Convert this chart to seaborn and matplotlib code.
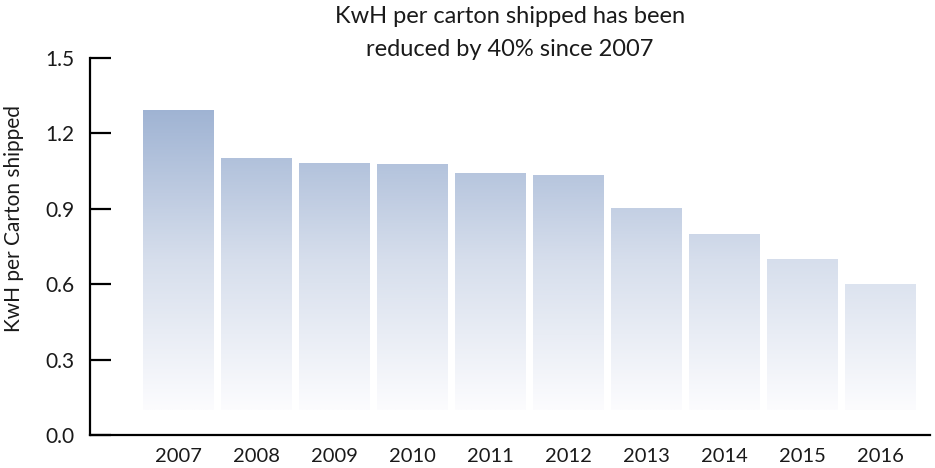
import numpy as np
import pandas as pd
import seaborn as sns
import matplotlib.pyplot as plt
from matplotlib.colors import LinearSegmentedColormap, Normalize

# ---- data ----
years = ['2007', '2008', '2009', '2010', '2011', '2012', '2013', '2014', '2015', '2016']
kwh_per_carton = [1.29, 1.10, 1.08, 1.075, 1.04, 1.035, 0.90, 0.80, 0.70, 0.60]
y_ticks = [0.0, 0.3, 0.6, 0.9, 1.2, 1.5]
y_tick_labels = ['0.0', '0.3', '0.6', '0.9', '1.2', '1.5']
title_text = 'KwH per carton shipped has been\nreduced by 40% since 2007'
y_label = 'KwH per Carton shipped'

sns.set_theme(style='white')
plt.rcParams['font.family'] = ['Lato', 'DejaVu Sans']
text_color = '#1a1a1a'

fig = plt.figure(figsize=(9.35, 4.68), dpi=100)
ax = fig.add_axes([90 / 935, 1 - 435 / 468, 840 / 935, 377 / 468])

df = pd.DataFrame({'year': years, 'kwh': kwh_per_carton})
sns.barplot(data=df, x='year', y='kwh', ax=ax, width=0.91, color='#a0b4d3',
            saturation=1, errorbar=None)

# gradient fill: color depends on absolute height, fading to white near the base
cmap = LinearSegmentedColormap.from_list('fade', ['#fcfcfe', '#d6deec', '#9fb3d3'])
norm = Normalize(vmin=0.1, vmax=1.30)
fade_base = 0.1
for bar in list(ax.patches):
    x0 = bar.get_x()
    w = bar.get_width()
    h = bar.get_height()
    yy = np.linspace(fade_base, h, 300).reshape(-1, 1)
    ax.imshow(yy, extent=[x0, x0 + w, fade_base, h], origin='lower', aspect='auto',
              cmap=cmap, norm=norm, interpolation='bilinear', zorder=2)
    bar.set_visible(False)

ax.set_xlim(-1.13, 9.64)
ax.set_ylim(0, 1.5)
ax.set_yticks(y_ticks)
ax.set_yticklabels(y_tick_labels)

for side in ['top', 'right']:
    ax.spines[side].set_visible(False)
for side in ['left', 'bottom']:
    ax.spines[side].set_color('black')
    ax.spines[side].set_linewidth(1.6)

ax.tick_params(axis='y', direction='in', length=15, width=1.6, color='black',
               labelsize=15, labelcolor=text_color, pad=11, left=True)
ax.tick_params(axis='x', length=0, labelsize=14.5, labelcolor=text_color, pad=9)

ax.set_xlabel('')
ax.set_ylabel(y_label, fontsize=15, color=text_color)
ax.yaxis.set_label_coords(-0.078, 0.575)

fig.text(0.545, 1 - 6 / 468, title_text, ha='center', va='top', fontsize=17,
         color=text_color, linespacing=1.7)

fig.savefig('out.png', dpi=100, facecolor='white')
